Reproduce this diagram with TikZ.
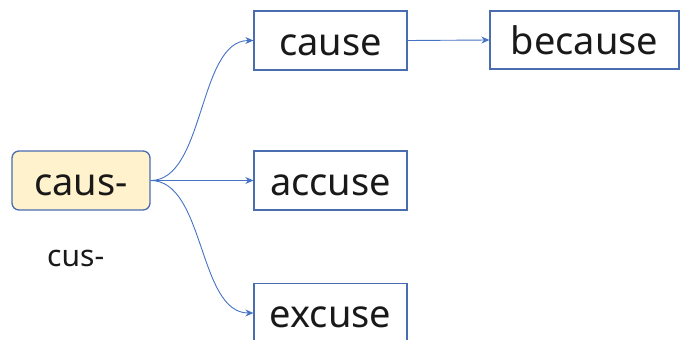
\documentclass[tikz,border=0pt]{standalone}
\usepackage{fontspec}
\setmainfont{Noto Sans}
\usetikzlibrary{arrows.meta}
\definecolor{boxline}{HTML}{4A6DB0}
\definecolor{conn}{HTML}{4472C4}
\definecolor{rootfill}{HTML}{FFF2CC}
\tikzset{
  wordbox/.style={draw=boxline, line width=1.3pt, fill=white, inner sep=0pt,
    minimum width=153pt, minimum height=59pt, text height=29pt, text depth=0pt,
    font=\fontsize{38}{42}\selectfont, text=black!90},
  rootbox/.style={wordbox, fill=rootfill, rounded corners=7pt, minimum width=138pt},
  link/.style={draw=conn, line width=0.9pt, -{Stealth[length=8pt,width=7pt]}},
}
\begin{document}
\begin{tikzpicture}[x=1pt,y=-1pt]
\useasboundingbox (0,0) rectangle (681,340);
\clip (0,0) rectangle (681,340);
\node[rootbox] (root) at (81,180.5) {caus-};
\node[wordbox] (cause) at (330.5,40.5) {cause};
\node[wordbox, minimum width=189pt, minimum height=58pt] (because) at (584.5,40) {because};
\node[wordbox] (accuse) at (330.5,180.5) {accuse};
\node[wordbox] (excuse) at (330.5,313) {excuse};
\node[font=\fontsize{30}{34}\selectfont, inner sep=0pt, anchor=base west, text=black!90] (alt) at (47,266) {cus-};
\draw[link] (root.east) .. controls (205,180.5) and (198,40.5) .. (cause.west);
\draw[link] (root.east) -- (accuse.west);
\draw[link] (root.east) .. controls (205,180.5) and (198,313) .. (excuse.west);
\draw[link] (cause.east) -- (because.west);
\end{tikzpicture}
\end{document}
